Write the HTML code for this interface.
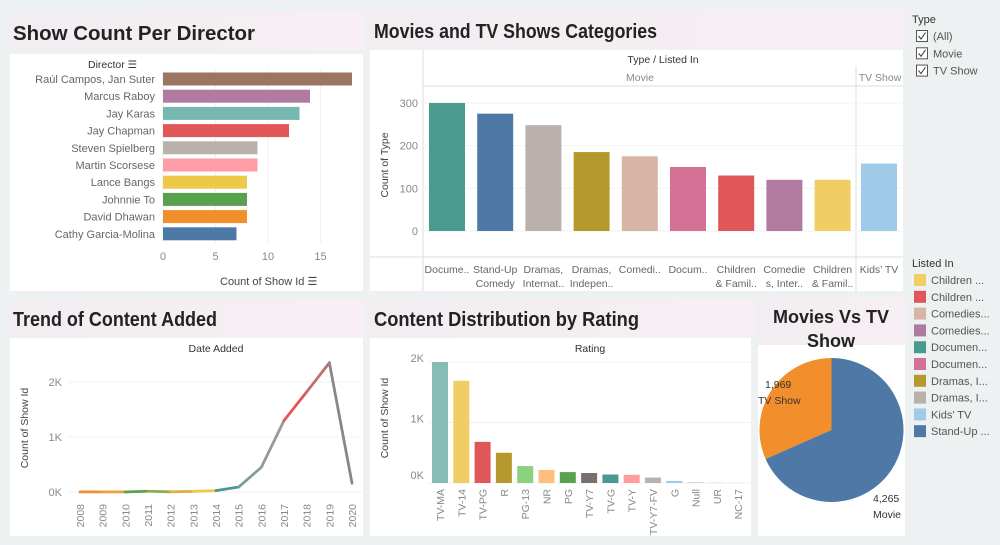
<!DOCTYPE html>
<html><head><meta charset="utf-8"><style>
html,body{margin:0;padding:0;background:#eef1f1;}
svg{display:block;font-family:"Liberation Sans",sans-serif;}
</style></head><body>
<svg id="s" width="1000" height="545" viewBox="0 0 1000 545">
<defs>
<linearGradient id="tb" x1="0" x2="1" y1="0" y2="0"><stop offset="0" stop-color="#f1edf1"/><stop offset="1" stop-color="#f7eff4"/></linearGradient>
</defs>
<rect x="5" y="12" width="360" height="38" fill="url(#tb)"/>
<rect x="368" y="10" width="537" height="38" fill="url(#tb)"/>
<rect x="5" y="300" width="360" height="38" fill="url(#tb)"/>
<rect x="368" y="300" width="385" height="38" fill="url(#tb)"/>
<rect x="756" y="298" width="150" height="47" fill="url(#tb)"/>
<rect x="10" y="54" width="353" height="237" fill="#fff"/>
<rect x="370" y="50" width="533" height="241" fill="#fff"/>
<rect x="10" y="338" width="353" height="198" fill="#fff"/>
<rect x="370" y="338" width="381" height="198" fill="#fff"/>
<rect x="758" y="345" width="147" height="191" fill="#fff"/>
<text x="13" y="40" font-size="20" font-weight="bold" fill="#222" textLength="242" lengthAdjust="spacingAndGlyphs">Show Count Per Director</text>
<text x="374" y="38" font-size="20" font-weight="bold" fill="#222" textLength="283" lengthAdjust="spacingAndGlyphs">Movies and TV Shows Categories</text>
<text x="13" y="326" font-size="20" font-weight="bold" fill="#222" textLength="204" lengthAdjust="spacingAndGlyphs">Trend of Content Added</text>
<text x="374" y="326" font-size="20" font-weight="bold" fill="#222" textLength="265" lengthAdjust="spacingAndGlyphs">Content Distribution by Rating</text>
<text x="831" y="323" font-size="18" font-weight="bold" fill="#222" text-anchor="middle">Movies Vs TV</text>
<text x="831" y="347" font-size="18" font-weight="bold" fill="#222" text-anchor="middle">Show</text>
<g id="g1"></g><g id="g2"></g><g id="g3"></g><g id="g4"></g><g id="g5"></g><g id="g6"></g>
</svg>
<script>
const directors=["Raúl Campos, Jan Suter","Marcus Raboy","Jay Karas","Jay Chapman","Steven Spielberg","Martin Scorsese","Lance Bangs","Johnnie To","David Dhawan","Cathy Garcia-Molina"];
const directorCounts=[18,14,13,12,9,9,8,8,8,7];
const directorTicks=[0,5,10,15];
const categories=["Docume..","Stand-Up|Comedy","Dramas,|Internat..","Dramas,|Indepen..","Comedi..","Docum..","Children|& Famil..","Comedie|s, Inter..","Children|& Famil..","Kids’ TV"];
const categoryCounts=[300,275,248,185,175,150,130,120,120,158];
const categoryTicks=[0,100,200,300];
const years=["2008","2009","2010","2011","2012","2013","2014","2015","2016","2017","2018","2019","2020"];
const yearCounts=[2,2,1,13,3,11,25,90,450,1300,1820,2350,160];
const trendTicks=[0,1000,2000];
const ratings=["TV-MA","TV-14","TV-PG","R","PG-13","NR","PG","TV-Y7","TV-G","TV-Y","TV-Y7-FV","G","Null","UR","NC-17"];
const ratingCounts=[2000,1690,680,500,280,215,180,165,140,135,90,35,15,5,3];
const ratingTicks=[0,1000,2000];
const pieLabels=["TV Show","Movie"];
const pieValues=[1969,4265];
const legendItems=["Children ...","Children ...","Comedies...","Comedies...","Documen...","Documen...","Dramas, I...","Dramas, I...","Kids’ TV","Stand-Up ..."];

const NS="http://www.w3.org/2000/svg";
function mk(parent,tag,attrs,txt){const e=document.createElementNS(NS,tag);for(const k in attrs)e.setAttribute(k,attrs[k]);if(txt!==undefined)e.textContent=txt;parent.appendChild(e);return e;}
const gray="#666",light="#888";

(function(){
const g=document.getElementById('g1');
const cols=["#9c7560","#b07aa1","#76b7b2","#e15759","#bab0ac","#ff9da7","#edc948","#59a14f","#f28e2b","#4e79a7"];
const x=v=>163+v*10.5, y=i=>79+i*17.2;
directorTicks.forEach(t=>{
 const l=mk(g,'line',{x1:x(t),x2:x(t),y1:70,y2:243,stroke:"#f0f0f0"});
 
 const tx=mk(g,'text',{x:x(t),y:260,'font-size':11,fill:light,'text-anchor':'middle'},t);
 
});
directors.forEach((d,i)=>{
 const r=mk(g,'rect',{x:x(0),y:y(i)-6.5,width:x(directorCounts[i])-x(0),height:13,fill:cols[i]});
 
 const t=mk(g,'text',{x:155,y:y(i)+4,'font-size':11,fill:gray,'text-anchor':'end'},d);
 
});
const h=mk(g,'text',{x:88,y:68,'font-size':10.5,fill:"#333"},"Director ☰");

const a=mk(g,'text',{x:220,y:285,'font-size':11,fill:"#444"},"Count of Show Id ☰");

})();

(function(){
const g=document.getElementById('g2');
const cols=["#4a9a8e","#4e79a7","#bab0ac","#b6992d","#d7b5a6","#d37295","#e15759","#b07aa1","#f1ce63","#a0cbe8"];
const y=v=>231-v*0.4267;
const cx=i=>i<9?447+i*48.2:879;
[[423,86,903,86],[370,257,903,257],[423,50,423,291],[856,66,856,291]].forEach(c=>{
 const l=mk(g,'line',{x1:c[0],y1:c[1],x2:c[2],y2:c[3],stroke:"#ddd"});
 
});
categoryTicks.forEach(t=>{
 const l=mk(g,'line',{x1:423,x2:903,y1:y(t),y2:y(t),stroke:"#f2f2f2"});
 
 const tx=mk(g,'text',{x:418,y:y(t)+4,'font-size':11,fill:light,'text-anchor':'end'},t);
 
});
categories.forEach((c,i)=>{
 const r=mk(g,'rect',{x:cx(i)-18,y:y(categoryCounts[i]),width:36,height:y(0)-y(categoryCounts[i]),fill:cols[i]});
 
 c.split('|').forEach((p,j)=>{
  const t=mk(g,'text',{x:cx(i),y:273+j*14,'font-size':10.5,fill:gray,'text-anchor':'middle'},p);
  
 });
});
const h=mk(g,'text',{x:663,y:63,'font-size':10.5,fill:"#333",'text-anchor':'middle'},"Type / Listed In");

const m=mk(g,'text',{x:640,y:81,'font-size':10.5,fill:light,'text-anchor':'middle'},"Movie");

const tv=mk(g,'text',{x:880,y:81,'font-size':10.5,fill:light,'text-anchor':'middle'},"TV Show");

const a=mk(g,'text',{x:0,y:0,'font-size':10.5,fill:"#444",'text-anchor':'middle',transform:'translate(388,165) rotate(-90)'},"Count of Type");

})();

(function(){
const g=document.getElementById('g3');
const cols=["#c9a070","#f28e2b","#e8a040","#59a14f","#8cb050","#e0b040","#edc948","#499894","#7aa090","#999","#e15759","#c07070","#888"];
const x=i=>80+i*22.67, y=v=>492-v*0.055;
trendTicks.forEach(t=>{
 const l=mk(g,'line',{x1:68,x2:362,y1:y(t),y2:y(t),stroke:"#f0f0f0"});
 
 const tx=mk(g,'text',{x:62,y:y(t)+4,'font-size':11,fill:light,'text-anchor':'end'},(t/1000)+"K");
 
});
for(let i=0;i<years.length-1;i++){
 const l=mk(g,'line',{x1:x(i),y1:y(yearCounts[i]),x2:x(i+1),y2:y(yearCounts[i+1]),stroke:cols[i+1],'stroke-width':2.8,'stroke-linecap':'round'});
 
}
years.forEach((yr,i)=>{
 const t=mk(g,'text',{x:0,y:0,'font-size':10.5,fill:light,'text-anchor':'end',transform:`translate(${x(i)+4},504) rotate(-90)`},yr);
 
});
const h=mk(g,'text',{x:216,y:352,'font-size':10.5,fill:"#333",'text-anchor':'middle'},"Date Added");

const a=mk(g,'text',{x:0,y:0,'font-size':10.5,fill:"#444",'text-anchor':'middle',transform:'translate(28,428) rotate(-90)'},"Count of Show Id");

})();

(function(){
const g=document.getElementById('g4');
const cols=["#86bcb6","#f1ce63","#e15759","#b6992d","#8cd17d","#ffbe7d","#59a14f","#79706e","#499894","#ff9d9a","#bab0ac","#a0cbe8","#d4d4d4","#ccc","#ccc"];
const x=i=>440+i*21.3, y=v=>483-v*0.0605;
ratingTicks.forEach(t=>{
 const l=mk(g,'line',{x1:428,x2:751,y1:y(t),y2:y(t),stroke:"#f0f0f0"});
 
 const tx=mk(g,'text',{x:424,y:y(t)-4+(t==0?0:4),'font-size':11,fill:light,'text-anchor':'end'},(t/1000)+"K");
 
});
ratings.forEach((r,i)=>{
 const b=mk(g,'rect',{x:x(i)-8,y:y(ratingCounts[i]),width:16,height:Math.max(0,y(0)-y(ratingCounts[i])),fill:cols[i]});
 
 const t=mk(g,'text',{x:0,y:0,'font-size':10.5,fill:light,'text-anchor':'end',transform:`translate(${x(i)+4},489) rotate(-90)`},r);
 
});
const h=mk(g,'text',{x:590,y:352,'font-size':10.5,fill:"#333",'text-anchor':'middle'},"Rating");

const a=mk(g,'text',{x:0,y:0,'font-size':10.5,fill:"#444",'text-anchor':'middle',transform:'translate(388,418) rotate(-90)'},"Count of Show Id");

})();

(function(){
const g=document.getElementById('g5');
const cols=["#f28e2b","#4e79a7"];
const cx=831.5,cy=430,r=72;
const tot=pieValues.reduce((a,b)=>a+b,0);
let a0=0;
pieValues.forEach((v,i)=>{
 const a1=a0-v/tot*2*Math.PI;
 const p=(a)=>[cx+r*Math.sin(a),cy-r*Math.cos(a)];
 const s=p(a0),e=p(a1),large=(v/tot>0.5)?1:0;
 const path=mk(g,'path',{d:`M${cx},${cy} L${s[0]},${s[1]} A${r},${r} 0 ${large} 0 ${e[0]},${e[1]} Z`,fill:cols[i]});
 
 a0=a1;
});
const l1=mk(g,'text',{x:765,y:388,'font-size':10.5,fill:"#333"},pieValues[0].toLocaleString('en-US'));

const l2=mk(g,'text',{x:758,y:404,'font-size':10.5,fill:"#333"},pieLabels[0]);

const l3=mk(g,'text',{x:873,y:502,'font-size':10.5,fill:"#333"},pieValues[1].toLocaleString('en-US'));

const l4=mk(g,'text',{x:873,y:518,'font-size':10.5,fill:"#333"},pieLabels[1]);

})();

(function(){
const g=document.getElementById('g6');
const t=mk(g,'text',{x:912,y:23,'font-size':11,fill:"#333"},"Type");

["(All)","Movie","TV Show"].forEach((s,i)=>{
 const yy=36+i*17.3;
 const b=mk(g,'rect',{x:916.5,y:yy-5.5,width:11,height:11,fill:"#fff",stroke:"#555"});
 
 const c=mk(g,'path',{d:`M918.5 ${yy} l2.5 3 l4.5 -6.5`,fill:"none",stroke:"#333",'stroke-width':1});
 
 const l=mk(g,'text',{x:933,y:yy+4,'font-size':11,fill:"#555"},s);
 
});
const lt=mk(g,'text',{x:912,y:267,'font-size':11,fill:"#333"},"Listed In");

const cols=["#f1ce63","#e15759","#d7b5a6","#b07aa1","#4a9a8e","#d37295","#b6992d","#bab0ac","#a0cbe8","#4e79a7"];
legendItems.forEach((s,i)=>{
 const yy=280+i*16.8;
 const r=mk(g,'rect',{x:914,y:yy-6,width:12,height:12,fill:cols[i]});
 
 const l=mk(g,'text',{x:931,y:yy+4,'font-size':11,fill:"#555"},s);
 
});
})();
</script>
</body></html>
